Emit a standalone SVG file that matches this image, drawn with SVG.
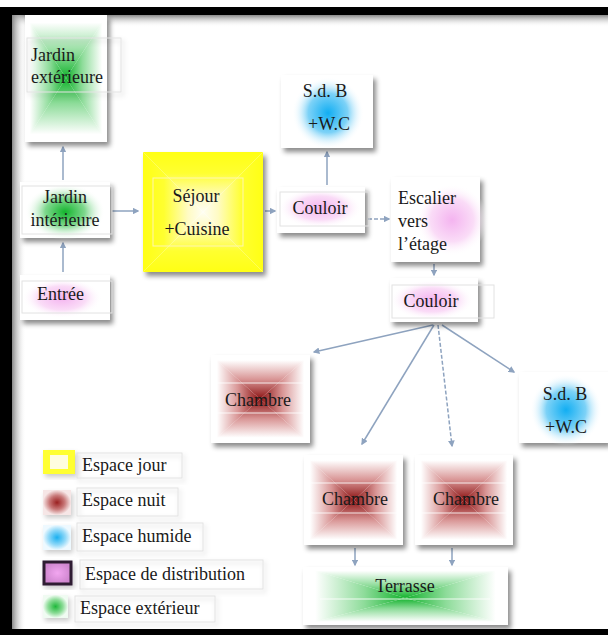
<svg xmlns="http://www.w3.org/2000/svg" width="608" height="635" viewBox="0 0 608 635">
<defs>
<style>
text{font-family:"Liberation Serif","Times New Roman",serif;font-size:18px;fill:#1a1a1a}
.c{text-anchor:middle}
.bg{fill:#fff;filter:url(#sh)}
.tb{fill:none;stroke:#e2e2e2;stroke-width:1}
.ln{stroke:#fff;stroke-width:1.2;stroke-opacity:0.85}
.cn{fill:none;stroke:#8ea3bf;stroke-width:1.5;marker-end:url(#ah)}
.dash{stroke-dasharray:4 2}
</style>
<filter id="sh" x="-15%" y="-15%" width="140%" height="140%"><feDropShadow dx="3" dy="4" stdDeviation="2.5" flood-color="#000" flood-opacity="0.45"/></filter>
<filter id="sh2" x="-15%" y="-15%" width="140%" height="140%"><feDropShadow dx="2" dy="3" stdDeviation="2.5" flood-color="#000" flood-opacity="0.2"/></filter>
<marker id="ah" viewBox="0 0 10 10" refX="8" refY="5" markerWidth="4.5" markerHeight="4.5" orient="auto"><path d="M0,0 L10,5 L0,10 z" fill="#8ea3bf"/></marker>
<radialGradient id="gGreen"><stop offset="0" stop-color="#14b52e"/><stop offset="0.5" stop-color="#7fd88e"/><stop offset="1" stop-color="#fff" stop-opacity="0"/></radialGradient>
<radialGradient id="gPink"><stop offset="0" stop-color="#f4b4f0"/><stop offset="0.6" stop-color="#fadcf7"/><stop offset="1" stop-color="#fff" stop-opacity="0"/></radialGradient>
<radialGradient id="gBlue"><stop offset="0" stop-color="#12aef2"/><stop offset="0.55" stop-color="#7dd2f7"/><stop offset="1" stop-color="#fff" stop-opacity="0"/></radialGradient>
<radialGradient id="gRedS"><stop offset="0" stop-color="#9a2020"/><stop offset="0.55" stop-color="#c87878"/><stop offset="1" stop-color="#f6e6e6"/></radialGradient>
<radialGradient id="gBlueS"><stop offset="0" stop-color="#1ab0f0"/><stop offset="0.6" stop-color="#8fd8f8"/><stop offset="1" stop-color="#eef9ff"/></radialGradient>
<radialGradient id="gGreenS"><stop offset="0" stop-color="#1fb83a"/><stop offset="0.6" stop-color="#8ddc98"/><stop offset="1" stop-color="#f0fbf2"/></radialGradient>
<radialGradient id="gPinkS"><stop offset="0" stop-color="#f2a6f0"/><stop offset="1" stop-color="#cf86cf"/></radialGradient>
<linearGradient id="rT" x1="0" y1="0" x2="0" y2="1"><stop offset="0" stop-color="#fff"/><stop offset="0.12" stop-color="#fff"/><stop offset="0.55" stop-color="#d99696"/><stop offset="1" stop-color="#8c1212"/></linearGradient>
<linearGradient id="rB" x1="0" y1="1" x2="0" y2="0" href="#rT"/>
<linearGradient id="rL" x1="0" y1="0" x2="1" y2="0" href="#rT"/>
<linearGradient id="rR" x1="1" y1="0" x2="0" y2="0" href="#rT"/>
<linearGradient id="yT" x1="0" y1="0" x2="0" y2="1"><stop offset="0" stop-color="#ffff14"/><stop offset="0.35" stop-color="#ffff30"/><stop offset="0.75" stop-color="#fffbc4"/><stop offset="1" stop-color="#fffef2"/></linearGradient>
<linearGradient id="yB" x1="0" y1="1" x2="0" y2="0" href="#yT"/>
<linearGradient id="yL" x1="0" y1="0" x2="1" y2="0" href="#yT"/>
<linearGradient id="yR" x1="1" y1="0" x2="0" y2="0" href="#yT"/>
<linearGradient id="gT" x1="0" y1="0" x2="0" y2="1"><stop offset="0" stop-color="#fff"/><stop offset="0.12" stop-color="#fff"/><stop offset="0.6" stop-color="#8edc9a"/><stop offset="1" stop-color="#12b22c"/></linearGradient>
<linearGradient id="gB" x1="0" y1="1" x2="0" y2="0" href="#gT"/>
<linearGradient id="gL" x1="0" y1="0" x2="1" y2="0" href="#gT"/>
<linearGradient id="gR" x1="1" y1="0" x2="0" y2="0" href="#gT"/>
<linearGradient id="fTop" x1="0" y1="0" x2="0" y2="1"><stop offset="0" stop-color="#888"/><stop offset="1" stop-color="#fff" stop-opacity="0"/></linearGradient>
<linearGradient id="fLeft" x1="0" y1="0" x2="1" y2="0"><stop offset="0" stop-color="#888"/><stop offset="1" stop-color="#fff" stop-opacity="0"/></linearGradient>
</defs>
<rect width="608" height="635" fill="#fff"/>
<g id="frame">
<rect x="0" y="7" width="608" height="8" fill="#000"/>
<rect x="0" y="7" width="12" height="628" fill="#000"/>
<rect x="0" y="629" width="608" height="6" fill="#000"/>
<rect x="12" y="15" width="596" height="12" fill="url(#fTop)"/>
<rect x="12" y="15" width="14" height="614" fill="url(#fLeft)"/>
</g>
<g id="connectors">
<path class="cn" d="M63,180 L63,147"/>
<path class="cn" d="M63,272 L63,243"/>
<path class="cn" d="M112,211 L138,211"/>
<path class="cn" d="M265,211 L275,211"/>
<path class="cn" d="M327,185 L327,152"/>
<path class="cn dash" d="M368,219 L389,219"/>
<path class="cn" d="M434,264 L434,275"/>
<path class="cn" d="M433,325 L314,352"/>
<path class="cn" d="M434,325 L362,444"/>
<path class="cn dash" d="M438,325 L452,446"/>
<path class="cn" d="M442,325 L514,372"/>
<path class="cn" d="M355,548 L355,565"/>
<path class="cn" d="M452,548 L452,565"/>
</g>
<g id="jardin-exterieure">
<rect class="bg" x="25" y="15" width="82" height="127"/>
<polygon points="25,15 107,15 66,78" fill="url(#gT)"/>
<polygon points="25,142 107,142 66,78" fill="url(#gB)"/>
<polygon points="25,15 25,142 66,78" fill="url(#gL)"/>
<polygon points="107,15 107,142 66,78" fill="url(#gR)"/>
<rect class="tb" x="27" y="38" width="94" height="54" filter="url(#sh2)"/>
<text x="31" y="61">Jardin</text>
<text x="31" y="83">extérieure</text>
</g>
<g id="jardin-interieure">
<rect class="bg" x="20" y="182" width="90" height="56"/>
<ellipse cx="65" cy="212" rx="40" ry="28" fill="url(#gGreen)"/>
<rect class="tb" x="22" y="186" width="90" height="48"/>
<text class="c" x="65" y="203">Jardin</text>
<text class="c" x="65" y="226">intérieure</text>
</g>
<g id="entree">
<rect class="bg" x="20" y="275" width="90" height="45"/>
<ellipse cx="62" cy="298" rx="40" ry="20" fill="url(#gPink)"/>
<rect class="tb" x="22" y="281" width="90" height="32"/>
<text x="37" y="300">Entrée</text>
</g>
<g id="sejour">
<rect class="bg" x="143" y="152" width="120" height="120"/>
<polygon points="143,152 263,152 203,212" fill="url(#yT)"/>
<polygon points="143,272 263,272 203,212" fill="url(#yB)"/>
<polygon points="143,152 143,272 203,212" fill="url(#yL)"/>
<polygon points="263,152 263,272 203,212" fill="url(#yR)"/>
<rect x="153" y="178" width="90" height="68" fill="none" stroke="#fff6b0" stroke-width="1"/>
<text class="c" x="196" y="202">Séjour</text>
<text class="c" x="197" y="235">+Cuisine</text>
</g>
<g id="couloir-1">
<rect class="bg" x="277" y="187" width="88" height="46"/>
<ellipse cx="320" cy="208" rx="42" ry="20" fill="url(#gPink)"/>
<rect class="tb" x="280" y="192" width="89" height="34"/>
<text class="c" x="320" y="214">Couloir</text>
</g>
<g id="sdb-1">
<rect class="bg" x="281" y="75" width="92" height="73"/>
<ellipse cx="328" cy="113" rx="36" ry="36" fill="url(#gBlue)"/>
<text class="c" x="325" y="97">S.d. B</text>
<text class="c" x="329" y="130">+W.C</text>
</g>
<g id="escalier">
<rect class="bg" x="391" y="177" width="89" height="85"/>
<ellipse cx="452" cy="220" rx="36" ry="36" fill="url(#gPink)"/>
<text x="398" y="204">Escalier</text>
<text x="398" y="227">vers</text>
<text x="398" y="250">l’étage</text>
</g>
<g id="couloir-2">
<rect class="bg" x="390" y="278" width="88" height="44"/>
<ellipse cx="432" cy="300" rx="42" ry="20" fill="url(#gPink)"/>
<rect class="tb" x="392" y="285" width="102" height="33"/>
<text class="c" x="431" y="307">Couloir</text>
</g>
<g id="chambre-1">
<rect class="bg" x="211" y="355" width="99" height="88"/>
<polygon points="211,355 310,355 260,399" fill="url(#rT)"/>
<polygon points="211,443 310,443 260,399" fill="url(#rB)"/>
<polygon points="211,355 211,443 260,399" fill="url(#rL)"/>
<polygon points="310,355 310,443 260,399" fill="url(#rR)"/>
<line class="ln" x1="216" y1="383" x2="304" y2="383"/>
<line class="ln" x1="216" y1="413" x2="304" y2="413"/>
<text class="c" x="258" y="406">Chambre</text>
</g>
<g id="sdb-2">
<rect class="bg" x="519" y="372" width="89" height="71"/>
<ellipse cx="566" cy="410" rx="36" ry="36" fill="url(#gBlue)"/>
<text class="c" x="565" y="400">S.d. B</text>
<text class="c" x="566" y="433">+W.C</text>
</g>
<g id="chambre-2">
<rect class="bg" x="304" y="455" width="99" height="90"/>
<polygon points="304,455 403,455 354,500" fill="url(#rT)"/>
<polygon points="304,545 403,545 354,500" fill="url(#rB)"/>
<polygon points="304,455 304,545 354,500" fill="url(#rL)"/>
<polygon points="403,455 403,545 354,500" fill="url(#rR)"/>
<line class="ln" x1="309" y1="483" x2="398" y2="483"/>
<line class="ln" x1="309" y1="513" x2="398" y2="513"/>
<text class="c" x="355" y="505">Chambre</text>
</g>
<g id="chambre-3">
<rect class="bg" x="415" y="455" width="98" height="90"/>
<polygon points="415,455 513,455 464,500" fill="url(#rT)"/>
<polygon points="415,545 513,545 464,500" fill="url(#rB)"/>
<polygon points="415,455 415,545 464,500" fill="url(#rL)"/>
<polygon points="513,455 513,545 464,500" fill="url(#rR)"/>
<line class="ln" x1="420" y1="483" x2="508" y2="483"/>
<line class="ln" x1="420" y1="513" x2="508" y2="513"/>
<text class="c" x="466" y="505">Chambre</text>
</g>
<g id="terrasse">
<rect class="bg" x="303" y="567" width="205" height="58"/>
<polygon points="303,567 508,567 405,598" fill="url(#gT)"/>
<polygon points="303,625 508,625 405,598" fill="url(#gB)"/>
<polygon points="303,567 303,625 405,598" fill="url(#gL)"/>
<polygon points="508,567 508,625 405,598" fill="url(#gR)"/>
<line class="ln" x1="320" y1="599" x2="490" y2="599"/>
<text class="c" x="405" y="592">Terrasse</text>
</g>
<g id="legend">
<g id="leg-jour">
<rect x="43" y="450" width="32" height="24" fill="#ffff30" filter="url(#sh2)"/>
<rect x="50" y="455" width="18" height="14" fill="#fffde0"/>
<rect class="tb" x="77" y="453" width="105" height="25" filter="url(#sh2)"/>
<text x="82" y="471">Espace jour</text>
</g>
<g id="leg-nuit">
<rect x="43" y="490" width="28" height="25" fill="url(#gRedS)" filter="url(#sh2)"/>
<rect class="tb" x="77" y="488" width="101" height="28" filter="url(#sh2)"/>
<text x="82" y="506">Espace nuit</text>
</g>
<g id="leg-humide">
<rect x="43" y="525" width="28" height="25" fill="url(#gBlueS)" filter="url(#sh2)"/>
<rect class="tb" x="77" y="523" width="126" height="28" filter="url(#sh2)"/>
<text x="82" y="542">Espace humide</text>
</g>
<g id="leg-distribution">
<rect x="44" y="562" width="27" height="22" fill="url(#gPinkS)" stroke="#2e1d30" stroke-width="3" filter="url(#sh2)"/>
<rect class="tb" x="80" y="560" width="183" height="29" filter="url(#sh2)"/>
<text x="85" y="580">Espace de distribution</text>
</g>
<g id="leg-exterieur">
<rect x="43" y="595" width="25" height="23" fill="url(#gGreenS)" filter="url(#sh2)"/>
<rect class="tb" x="75" y="596" width="140" height="26" filter="url(#sh2)"/>
<text x="80" y="614">Espace extérieur</text>
</g>
</g>
</svg>
